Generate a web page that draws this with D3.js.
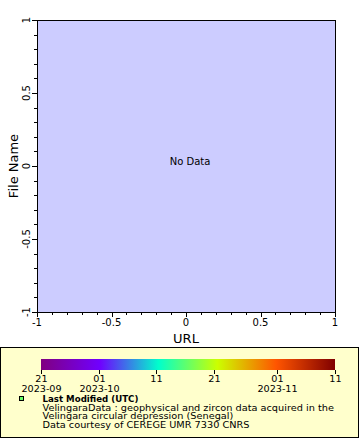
<!DOCTYPE html>
<html><head><meta charset="utf-8">
<script src="https://cdn.jsdelivr.net/npm/d3@7"></script>
<style>body{margin:0;background:#fff}svg{display:block;font-family:"DejaVu Sans",sans-serif}</style>
</head><body>
<script>
const xDomain = [-1, 1];
const yDomain = [-1, 1];
const majorTicks = [-1, -0.5, 0, 0.5, 1];
const minorTicks = d3.range(-10, 11).map(d => d / 10);
const xLabel = "URL";
const yLabel = "File Name";
const noDataText = "No Data";
const timeStart = "2023-09-21";
const timeEnd = "2023-11-11";
const timeTicks = ["2023-09-21","2023-10-01","2023-10-11","2023-10-21","2023-11-01","2023-11-11"];
const timeTickLabels = ["21","01","11","21","01","11"];
const timeTickSub = ["2023-09","2023-10","","","2023-11",""];
const paletteStops = ["#800080","#7000ff","#00ffcc","#ccff00","#ff5500","#800000"];
const legendTitle = "Last Modified (UTC)";
const legendLines = ["VelingaraData : geophysical and zircon data acquired in the","Velingara circular depression (Senegal)","Data courtesy of CEREGE UMR 7330 CNRS"];

const W = 360, H = 440;
const svg = d3.select("body").append("svg").attr("width", W).attr("height", H);
const pl = 37, pr = 335, pt = 20, pb = 312;
const x = d3.scaleLinear().domain(xDomain).range([pl, pr]);
const y = d3.scaleLinear().domain(yDomain).range([pb, pt]);

svg.append("rect").attr("x", pl).attr("y", pt).attr("width", pr - pl).attr("height", pb - pt)
  .attr("fill", "#ccccff").attr("stroke", "#000").attr("stroke-width", 1).attr("shape-rendering","crispEdges");

const g = svg.append("g").attr("shape-rendering","crispEdges");
g.selectAll(".mx").data(minorTicks).join("line")
  .attr("x1", d => Math.round(x(d))+0.5).attr("x2", d => Math.round(x(d))+0.5)
  .attr("y1", pb).attr("y2", d => pb + (majorTicks.includes(d) ? 5 : 3)).attr("stroke","#000");
g.selectAll(".my").data(minorTicks).join("line")
  .attr("y1", d => Math.round(y(d))+0.5).attr("y2", d => Math.round(y(d))+0.5)
  .attr("x1", pl).attr("x2", d => pl - (majorTicks.includes(d) ? 5 : 3)).attr("stroke","#000");

svg.selectAll(".xl").data(majorTicks).join("text")
  .attr("x", d => x(d)).attr("y", 326).attr("text-anchor","middle")
  .attr("font-size", 10).text(d => String(d));
svg.selectAll(".yl").data(majorTicks).join("text")
  .attr("transform", d => `translate(30,${y(d)}) rotate(-90)`).attr("text-anchor","middle")
  .attr("font-size", 10).text(d => String(d));

svg.append("text").attr("x", (pl+pr)/2).attr("y", 343).attr("text-anchor","middle")
  .attr("font-size", 13).text(xLabel);
svg.append("text").attr("transform", `translate(18,${(pt+pb)/2}) rotate(-90)`).attr("text-anchor","middle")
  .attr("font-size", 13).text(yLabel);
svg.append("text").attr("x", 190).attr("y", 165).attr("text-anchor","middle")
  .attr("font-size", 10).text(noDataText);

svg.append("rect").attr("x", 0.5).attr("y", 347.5).attr("width", 358).attr("height", 90)
  .attr("fill", "#ffffcc").attr("stroke", "#000");

const parse = d3.utcParse("%Y-%m-%d");
const t = d3.scaleUtc().domain([parse(timeStart), parse(timeEnd)]).range([41, 335]);
const grad = svg.append("defs").append("linearGradient").attr("id","pal");
paletteStops.forEach((c,i) => grad.append("stop").attr("offset", i/(paletteStops.length-1)).attr("stop-color", c));
svg.append("rect").attr("x", 41).attr("y", 359).attr("width", 294).attr("height", 11).attr("fill","url(#pal)");
const tg = svg.append("g");
timeTicks.forEach((d,i) => {
  const px = Math.round(t(parse(d)))+0.5;
  tg.append("line").attr("x1", px).attr("x2", px).attr("y1", 370).attr("y2", 374).attr("stroke","#000").attr("shape-rendering","crispEdges");
  tg.append("text").attr("transform", `translate(${px},382) scale(1.12,1)`).attr("text-anchor","middle").attr("font-size", 8.6).text(timeTickLabels[i]);
  if (timeTickSub[i]) tg.append("text").attr("transform", `translate(${px},391.5) scale(1.12,1)`).attr("text-anchor","middle").attr("font-size", 8.6).text(timeTickSub[i]);
});

svg.append("rect").attr("x", 19.5).attr("y", 396.5).attr("width", 4).attr("height", 4)
  .attr("fill", "#66ff66").attr("stroke","#000").attr("shape-rendering","crispEdges");

function stretched(txt, y0, size, bold, target) {
  const el = svg.append("text").attr("font-size", size).attr("font-weight", bold ? "bold" : "normal").text(txt);
  const w = el.node().getComputedTextLength();
  const sx = target ? target / w : 1;
  el.attr("transform", `translate(42.5,${y0}) scale(${sx},1)`);
  return sx;
}
stretched(legendTitle, 402, 9, true, 96);
const sx1 = (() => {
  const tmp = svg.append("text").attr("font-size", 8.2).text(legendLines[0]);
  const w = tmp.node().getComputedTextLength(); tmp.remove(); return 291 / w;
})();
legendLines.forEach((s,i) => {
  svg.append("text").attr("font-size", 8.2).text(s)
    .attr("transform", `translate(42.5,${410.5 + i*8.8}) scale(${sx1},1)`);
});
</script>
</body></html>
